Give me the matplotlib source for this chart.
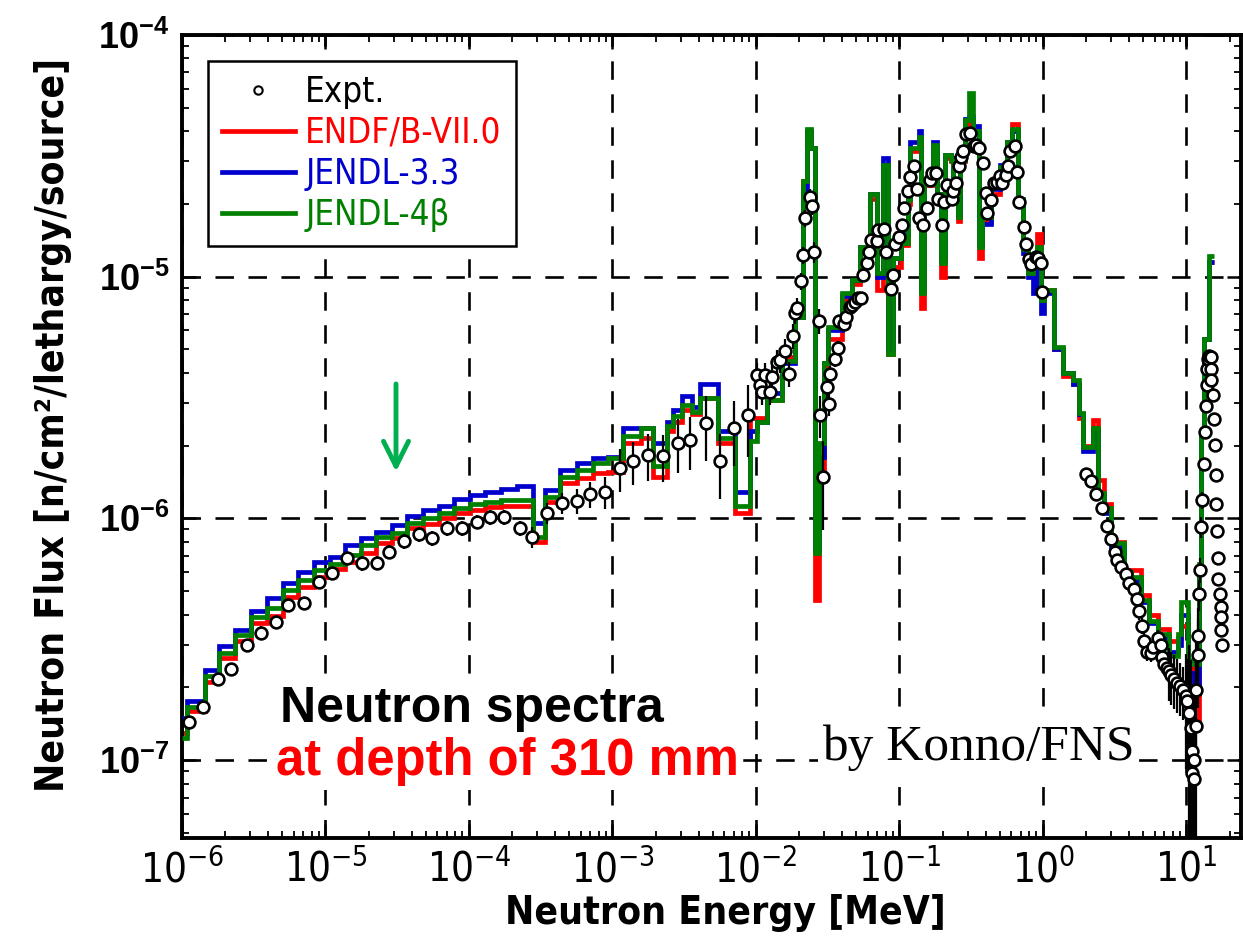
import numpy as np
import matplotlib
matplotlib.use('Agg')
import matplotlib.pyplot as plt
from matplotlib import font_manager as fm
from matplotlib.lines import Line2D
from matplotlib.ticker import LogLocator, FuncFormatter, NullFormatter

# ====================================================================================================
# Data
# ====================================================================================================

# group boundaries [MeV]
edges = [
    1.00e-6, 1.08e-6, 1.45e-6, 1.82e-6, 2.34e-6, 3.05e-6, 3.93e-6, 5.04e-6, 6.46e-6, 8.32e-6,
    1.07e-5, 1.37e-5, 1.76e-5, 2.26e-5, 2.90e-5, 3.72e-5, 4.79e-5, 6.17e-5, 7.89e-5, 1.01e-4,
    1.30e-4, 1.67e-4, 2.17e-4, 2.81e-4, 3.40e-4, 4.33e-4, 5.69e-4, 7.35e-4, 9.35e-4, 1.19e-3,
    1.57e-3, 1.93e-3, 2.41e-3, 2.65e-3, 3.07e-3, 3.60e-3, 4.09e-3, 5.47e-3, 7.18e-3, 9.12e-3,
    1.02e-2, 1.20e-2, 1.53e-2, 1.88e-2, 2.14e-2, 2.26e-2, 2.41e-2, 2.56e-2, 2.73e-2, 2.96e-2,
    3.16e-2, 3.96e-2, 4.65e-2, 5.35e-2, 6.28e-2, 7.03e-2, 7.73e-2, 8.38e-2, 9.08e-2, 1.02e-1,
    1.14e-1, 1.19e-1, 1.36e-1, 1.42e-1, 1.49e-1, 1.70e-1, 1.84e-1, 1.96e-1, 2.09e-1, 2.27e-1,
    2.38e-1, 2.54e-1, 2.66e-1, 2.88e-1, 3.03e-1, 3.23e-1, 3.56e-1, 3.79e-1, 4.31e-1, 5.06e-1,
    5.66e-1, 6.04e-1, 6.65e-1, 7.21e-1, 7.82e-1, 8.46e-1, 9.16e-1, 9.62e-1, 1.01, 1.19,
    1.37, 1.61, 1.77, 1.89, 2.22, 2.40, 2.65, 2.96, 3.65, 4.08,
    4.80, 5.45, 6.29, 7.52, 8.68, 9.11, 10.2, 11.2, 12.2, 12.7,
    13.2, 14.3, 15.5]

# JENDL-4beta (green)
flux_jendl4 = [
    1.24e-7, 1.66e-7, 2.22e-7, 2.77e-7, 3.30e-7, 3.90e-7, 4.26e-7, 5.06e-7, 5.56e-7, 6.12e-7,
    6.50e-7, 7.06e-7, 7.76e-7, 8.40e-7, 8.70e-7, 9.60e-7, 1.00e-6, 1.05e-6, 1.10e-6, 1.15e-6,
    1.17e-6, 1.19e-6, 1.19e-6, 8.40e-7, 1.23e-6, 1.49e-6, 1.58e-6, 1.69e-6, 1.77e-6, 2.20e-6,
    2.36e-6, 1.64e-6, 2.40e-6, 2.64e-6, 2.94e-6, 2.76e-6, 3.14e-6, 2.15e-6, 1.13e-6, 2.10e-6,
    2.50e-6, 3.10e-6, 4.50e-6, 6.80e-6, 2.50e-5, 4.10e-5, 3.40e-5, 7.20e-7, 2.05e-6, 4.40e-6,
    6.20e-6, 8.60e-6, 9.70e-6, 1.33e-5, 2.20e-5, 1.04e-5, 2.90e-5, 4.80e-6, 1.20e-5, 1.38e-5,
    2.10e-5, 3.40e-5, 3.80e-5, 8.60e-6, 2.50e-5, 3.50e-5, 2.20e-5, 1.14e-5, 3.20e-5, 3.05e-5,
    2.30e-5, 1.77e-5, 3.05e-5, 4.45e-5, 5.75e-5, 4.00e-5, 1.33e-5, 1.77e-5, 2.35e-5, 2.85e-5,
    3.60e-5, 4.10e-5, 2.10e-5, 1.30e-5, 1.04e-5, 1.10e-5, 1.33e-5, 8.00e-6, 8.80e-6, 5.13e-6,
    4.00e-6, 3.74e-6, 2.73e-6, 1.98e-6, 2.36e-6, 1.27e-6, 1.10e-6, 7.90e-7, 6.00e-7, 5.70e-7,
    4.60e-7, 3.77e-7, 3.33e-7, 2.69e-7, 3.33e-7, 4.50e-7, 2.60e-7, 2.50e-7, 6.50e-7, 2.20e-6,
    5.50e-6, 1.22e-5]

# JENDL-3.3 (blue)
flux_jendl33 = [
    1.50e-7, 1.76e-7, 2.35e-7, 2.97e-7, 3.45e-7, 4.15e-7, 4.70e-7, 5.40e-7, 5.98e-7, 6.60e-7,
    6.90e-7, 7.76e-7, 8.30e-7, 8.80e-7, 9.40e-7, 1.02e-6, 1.08e-6, 1.13e-6, 1.20e-6, 1.25e-6,
    1.28e-6, 1.32e-6, 1.36e-6, 9.60e-7, 1.31e-6, 1.58e-6, 1.69e-6, 1.78e-6, 1.80e-6, 2.36e-6,
    2.36e-6, 2.05e-6, 2.50e-6, 2.80e-6, 3.20e-6, 2.90e-6, 3.60e-6, 2.30e-6, 1.29e-6, 2.30e-6,
    2.50e-6, 3.30e-6, 4.40e-6, 6.80e-6, 2.30e-5, 4.00e-5, 3.40e-5, 7.50e-7, 1.80e-6, 4.40e-6,
    6.00e-6, 8.30e-6, 9.70e-6, 1.33e-5, 2.20e-5, 1.00e-5, 3.10e-5, 5.00e-6, 1.20e-5, 1.50e-5,
    2.10e-5, 3.60e-5, 4.00e-5, 9.00e-6, 2.50e-5, 3.60e-5, 2.20e-5, 1.20e-5, 3.20e-5, 3.10e-5,
    2.30e-5, 1.80e-5, 3.10e-5, 4.50e-5, 4.60e-5, 4.20e-5, 1.35e-5, 1.65e-5, 2.30e-5, 2.90e-5,
    3.60e-5, 4.00e-5, 2.00e-5, 1.25e-5, 1.00e-5, 8.60e-6, 1.20e-5, 7.10e-6, 8.60e-6, 5.00e-6,
    4.00e-6, 3.60e-6, 2.70e-6, 1.90e-6, 2.30e-6, 1.25e-6, 1.05e-6, 7.60e-7, 5.80e-7, 5.50e-7,
    4.50e-7, 3.70e-7, 3.20e-7, 2.80e-7, 3.00e-7, 4.00e-7, 2.30e-7, 1.90e-7, 6.00e-7, 2.20e-6,
    5.50e-6, 1.15e-5]

# ENDF/B-VII.0 (red)
flux_endf = [
    1.30e-7, 1.60e-7, 2.10e-7, 2.65e-7, 3.10e-7, 3.70e-7, 3.95e-7, 4.74e-7, 5.20e-7, 5.70e-7,
    6.20e-7, 6.60e-7, 7.20e-7, 7.90e-7, 8.30e-7, 9.10e-7, 9.50e-7, 1.00e-6, 1.05e-6, 1.08e-6,
    1.11e-6, 1.13e-6, 1.12e-6, 8.00e-7, 1.17e-6, 1.40e-6, 1.47e-6, 1.54e-6, 1.56e-6, 2.05e-6,
    2.15e-6, 1.49e-6, 2.30e-6, 2.50e-6, 2.80e-6, 2.70e-6, 3.14e-6, 2.05e-6, 1.05e-6, 2.60e-6,
    2.60e-6, 3.10e-6, 4.65e-6, 6.80e-6, 2.50e-5, 4.00e-5, 3.40e-5, 4.60e-7, 1.60e-6, 4.00e-6,
    5.50e-6, 8.00e-6, 9.30e-6, 1.25e-5, 2.10e-5, 8.80e-6, 2.90e-5, 4.80e-6, 1.10e-5, 1.35e-5,
    2.00e-5, 3.30e-5, 3.70e-5, 7.40e-6, 2.40e-5, 3.40e-5, 2.10e-5, 1.00e-5, 3.10e-5, 3.00e-5,
    2.20e-5, 1.70e-5, 3.00e-5, 4.30e-5, 4.40e-5, 4.00e-5, 1.20e-5, 1.70e-5, 2.20e-5, 2.80e-5,
    3.60e-5, 4.30e-5, 2.00e-5, 1.30e-5, 1.05e-5, 1.10e-5, 1.50e-5, 8.20e-6, 8.80e-6, 5.00e-6,
    3.90e-6, 3.60e-6, 2.60e-6, 2.00e-6, 2.55e-6, 1.44e-6, 1.15e-6, 8.00e-7, 6.10e-7, 6.10e-7,
    4.80e-7, 4.00e-7, 3.50e-7, 3.10e-7, 3.20e-7, 3.60e-7, 2.40e-7, 1.46e-7, 6.00e-7, 2.20e-6,
    5.50e-6, 1.15e-5]

# measured points: energy [MeV], flux, relative error
expt_e = [
    1.11e-6, 1.41e-6, 1.79e-6, 2.20e-6, 2.83e-6, 3.56e-6, 4.53e-6, 5.51e-6, 7.10e-6, 9.06e-6,
    1.11e-5, 1.41e-5, 1.79e-5, 2.28e-5, 2.79e-5, 3.55e-5, 4.52e-5, 5.54e-5, 7.01e-5, 8.92e-5,
    1.13e-4, 1.41e-4, 1.76e-4, 2.25e-4, 2.75e-4, 3.49e-4, 4.45e-4, 5.65e-4, 6.92e-4, 8.91e-4,
    1.12e-3, 1.39e-3, 1.76e-3, 2.25e-3, 2.86e-3, 3.49e-3, 4.49e-3, 5.58e-3, 7.00e-3, 8.75e-3,
    1.01e-2, 1.06e-2, 1.10e-2, 1.16e-2, 1.25e-2, 1.29e-2, 1.40e-2, 1.48e-2, 1.60e-2, 1.69e-2,
    1.81e-2, 1.88e-2, 1.94e-2, 2.06e-2, 2.13e-2, 2.21e-2, 2.37e-2, 2.46e-2, 2.52e-2, 2.74e-2,
    2.81e-2, 2.94e-2, 3.13e-2, 3.21e-2, 3.30e-2, 3.58e-2, 3.72e-2, 3.82e-2, 4.09e-2, 4.27e-2,
    4.50e-2, 4.68e-2, 4.88e-2, 5.12e-2, 5.41e-2, 5.58e-2, 5.96e-2, 6.18e-2, 6.35e-2, 6.92e-2,
    7.06e-2, 7.77e-2, 8.07e-2, 8.75e-2, 9.03e-2, 9.37e-2, 1.00e-1, 1.04e-1, 1.07e-1, 1.14e-1,
    0.119, 0.127, 0.132, 0.136, 0.146, 0.156, 0.163, 0.169, 0.181, 0.185,
    0.199, 0.206, 0.215, 0.231, 0.237, 0.246, 0.259, 0.269, 0.278, 0.293,
    0.309, 0.333, 0.344, 0.357, 0.384, 0.398, 0.409, 0.436, 0.455, 0.480,
    0.500, 0.520, 0.557, 0.569, 0.594, 0.634, 0.655, 0.679, 0.736, 0.757,
    0.798, 0.830, 0.888, 0.921, 0.972, 0.989, 1.98, 2.17, 2.33, 2.59,
    2.78, 2.96, 3.17, 3.30, 3.52, 3.77, 3.97, 4.31, 4.50, 4.67,
    4.92, 5.06, 5.28, 5.62, 5.88, 6.33, 6.61, 6.79, 6.97, 7.28,
    7.55, 7.85, 8.18, 8.55, 9.02, 9.53, 9.89, 10.05, 10.4, 10.7,
    11.0, 11.3, 10.9, 11.3, 11.6, 11.6, 12.0, 12.0, 12.2, 12.4,
    12.7, 12.9, 13.2, 13.4, 13.6, 13.8, 14.0, 14.1, 14.4, 14.9,
    14.8, 14.9, 15.4, 15.6, 15.7, 16.0, 16.0, 16.4, 16.6, 16.6,
    17.1, 17.3, 17.3, 17.5, 17.8]

expt_flux = [
    1.44e-7, 1.66e-7, 2.16e-7, 2.38e-7, 3.00e-7, 3.37e-7, 3.74e-7, 4.39e-7, 4.48e-7, 5.47e-7,
    5.93e-7, 6.84e-7, 6.52e-7, 6.56e-7, 7.28e-7, 8.07e-7, 8.59e-7, 8.28e-7, 9.10e-7, 9.10e-7,
    9.68e-7, 1.01e-6, 1.01e-6, 9.10e-7, 8.35e-7, 1.05e-6, 1.16e-6, 1.18e-6, 1.26e-6, 1.29e-6,
    1.61e-6, 1.72e-6, 1.83e-6, 1.81e-6, 2.06e-6, 2.11e-6, 2.47e-6, 1.72e-6, 2.36e-6, 2.68e-6,
    3.92e-6, 3.56e-6, 3.34e-6, 3.92e-6, 3.34e-6, 3.85e-6, 4.45e-6, 4.52e-6, 4.93e-6, 3.96e-6,
    5.69e-6, 7.06e-6, 7.40e-6, 9.62e-6, 1.23e-5, 1.75e-5, 2.13e-5, 1.96e-5, 1.26e-5, 6.58e-6,
    2.68e-6, 1.49e-6, 3.48e-6, 2.96e-6, 3.94e-6, 4.55e-6, 5.05e-6, 6.56e-6, 6.37e-6, 6.79e-6,
    7.52e-6, 7.64e-6, 7.88e-6, 8.14e-6, 8.19e-6, 1.02e-5, 1.14e-5, 1.27e-5, 1.42e-5, 1.40e-5,
    1.56e-5, 1.57e-5, 1.26e-5, 8.87e-6, 1.02e-5, 1.36e-5, 1.46e-5, 1.64e-5, 1.92e-5, 2.27e-5,
    2.59e-5, 2.87e-5, 2.30e-5, 1.75e-5, 1.64e-5, 1.92e-5, 2.51e-5, 2.68e-5, 2.68e-5, 2.09e-5,
    1.64e-5, 2.04e-5, 2.39e-5, 2.09e-5, 2.27e-5, 2.45e-5, 2.87e-5, 3.12e-5, 3.32e-5, 3.89e-5,
    3.94e-5, 3.47e-5, 3.51e-5, 3.40e-5, 2.95e-5, 2.21e-5, 1.84e-5, 2.08e-5, 2.45e-5, 2.47e-5,
    2.61e-5, 2.45e-5, 2.64e-5, 2.87e-5, 3.32e-5, 3.47e-5, 2.72e-5, 2.04e-5, 1.61e-5, 1.36e-5,
    1.18e-5, 1.13e-5, 1.21e-5, 1.20e-5, 1.14e-5, 8.67e-6, 1.52e-6, 1.43e-6, 1.26e-6, 1.10e-6,
    9.31e-7, 8.22e-7, 7.28e-7, 6.73e-7, 6.31e-7, 5.87e-7, 5.39e-7, 5.12e-7, 4.62e-7, 4.13e-7,
    3.60e-7, 3.10e-7, 2.80e-7, 2.78e-7, 2.94e-7, 3.21e-7, 2.99e-7, 2.68e-7, 2.50e-7, 2.41e-7,
    2.33e-7, 2.25e-7, 2.17e-7, 2.09e-7, 2.02e-7, 1.95e-7, 1.84e-7, 1.75e-7, 1.57e-7, 1.36e-7,
    1.09e-7, 1.00e-7, 8.83e-8, 8.37e-8, 1.38e-7, 1.95e-7, 2.73e-7, 3.27e-7, 4.85e-7, 6.12e-7,
    9.25e-7, 1.19e-6, 1.68e-6, 2.27e-6, 2.91e-6, 3.55e-6, 4.17e-6, 4.56e-6, 4.70e-6, 4.65e-6,
    4.17e-6, 3.74e-6, 3.24e-6, 2.57e-6, 2.01e-6, 1.51e-6, 1.15e-6, 8.83e-7, 6.87e-7, 5.60e-7,
    4.85e-7, 4.31e-7, 3.91e-7, 3.45e-7, 2.99e-7]

expt_err = [
    0.06, 0.06, 0.06, 0.06, 0.06, 0.06, 0.06, 0.06, 0.06, 0.06,
    0.06, 0.06, 0.07, 0.07, 0.07, 0.07, 0.07, 0.07, 0.07, 0.07,
    0.07, 0.07, 0.07, 0.07, 0.10, 0.10, 0.10, 0.12, 0.12, 0.15,
    0.20, 0.20, 0.22, 0.22, 0.25, 0.25, 0.30, 0.30, 0.30, 0.33,
    0.12, 0.12, 0.12, 0.12, 0.12, 0.12, 0.12, 0.12, 0.12, 0.12,
    0.12, 0.10, 0.10, 0.08, 0.08, 0.08, 0.08, 0.08, 0.10, 0.12,
    0.20, 0.40, 0.10, 0.10, 0.08, 0.07, 0.07, 0.06, 0.06, 0.06,
    0.06, 0.06, 0.06, 0.06, 0.06, 0.06, 0.06, 0.06, 0.06, 0.06,
    0.05, 0.05, 0.05, 0.05, 0.05, 0.05, 0.05, 0.05, 0.05, 0.05,
    0.04, 0.04, 0.04, 0.04, 0.04, 0.04, 0.04, 0.04, 0.04, 0.04,
    0.04, 0.04, 0.04, 0.04, 0.04, 0.04, 0.04, 0.04, 0.04, 0.04,
    0.04, 0.04, 0.04, 0.04, 0.04, 0.04, 0.04, 0.04, 0.04, 0.04,
    0.04, 0.04, 0.04, 0.04, 0.04, 0.04, 0.04, 0.04, 0.04, 0.04,
    0.04, 0.04, 0.04, 0.04, 0.04, 0.04, 0.05, 0.05, 0.05, 0.05,
    0.05, 0.05, 0.05, 0.05, 0.05, 0.05, 0.05, 0.08, 0.08, 0.08,
    0.08, 0.08, 0.08, 0.08, 0.08, 0.08, 0.08, 0.08, 0.08, 0.08,
    0.25, 0.25, 0.25, 0.25, 0.25, 0.25, 0.50, 0.50, 0.90, 0.90,
    0.90, 0.90, 0.90, 0.90, 0.90, 0.60, 0.40, 0.30, 0.15, 0.12,
    0.10, 0.08, 0.06, 0.06, 0.06, 0.06, 0.06, 0.06, 0.06, 0.06,
    0.06, 0.06, 0.06, 0.06, 0.06, 0.06, 0.06, 0.06, 0.06, 0.06,
    0.06, 0.06, 0.06, 0.06, 0.06]

labels = ['Expt.', 'ENDF/B-VII.0', 'JENDL-3.3', 'JENDL-4\u03b2']
colors = ['black', '#FF0000', '#0000CC', '#008000']

# green arrow (energy, flux from -> to)
arrow_e = 3.1e-5
arrow_flux = (3.6e-6, 1.56e-6)

# ====================================================================================================
# Fonts
# ====================================================================================================

def has_font(name, **kw):
    try:
        fm.findfont(fm.FontProperties(family=name, **kw), fallback_to_default=False)
        return True
    except Exception:
        return False

if has_font('Liberation Sans Narrow'):
    narrow = dict(family=['Liberation Sans Narrow', 'DejaVu Sans'])
else:
    narrow = dict(family=['DejaVu Sans'], stretch='condensed')
wide = dict(family=['Liberation Sans', 'DejaVu Sans'])
serif = dict(family=['Liberation Serif', 'DejaVu Serif'])

def fp(base, **kw):
    d = dict(base)
    d.update(kw)
    return fm.FontProperties(**d)

# ====================================================================================================
# Plot
# ====================================================================================================

W, H = 1243, 942
fig = plt.figure(figsize=(W / 100, H / 100), dpi=100)
ax = fig.add_axes([182 / W, 1 - 838 / H, (1241 - 182) / W, (838 - 35) / H])

ax.set_xscale('log')
ax.set_yscale('log', nonpositive='clip')

lw = 3.4
ax.stairs(flux_endf, edges, baseline=None, color=colors[1], lw=lw, zorder=2)
ax.stairs(flux_jendl33, edges, baseline=None, color=colors[2], lw=lw, zorder=3)
ax.stairs(flux_jendl4, edges, baseline=None, color=colors[3], lw=lw, zorder=4)

e = np.array(expt_e)
f = np.array(expt_flux)
ax.errorbar(e, f, yerr=f * np.array(expt_err), fmt='none', ecolor='black',
            elinewidth=1.6, capsize=0, zorder=5)
ax.plot(e, f, 'o', ms=8.5, mfc='white', mec='black', mew=1.9, zorder=6)

ax.set_xlim(1e-6, 24)
ax.set_ylim(4.76e-8, 1e-4)

# ticks
ax.xaxis.set_major_locator(LogLocator(base=10, numticks=20))
ax.xaxis.set_minor_locator(LogLocator(base=10, subs=np.arange(2, 10), numticks=20))
ax.yaxis.set_major_locator(LogLocator(base=10, numticks=20))
ax.yaxis.set_minor_locator(LogLocator(base=10, subs=np.arange(2, 10), numticks=20))
pow_fmt = FuncFormatter(lambda v, p: r'$\mathregular{10^{%d}}$' % int(round(np.log10(v))))
ax.xaxis.set_major_formatter(pow_fmt)
ax.yaxis.set_major_formatter(pow_fmt)
ax.xaxis.set_minor_formatter(NullFormatter())
ax.yaxis.set_minor_formatter(NullFormatter())
ax.tick_params(which='both', direction='in', top=True, right=True)
ax.tick_params(which='major', length=10, width=1.8)
ax.tick_params(which='minor', length=5, width=1.3)
ax.tick_params(axis='x', pad=9, labelsize=29)
ax.tick_params(axis='y', pad=9, labelsize=26)
for t in ax.get_xticklabels():
    t.set_fontproperties(fp(narrow, size=29))
for t in ax.get_yticklabels():
    t.set_fontproperties(fp(wide, size=26, weight='bold'))

for s in ax.spines.values():
    s.set_linewidth(2.8)

ax.grid(True, which='major', color='black', linestyle=(0, (7, 5.5)), linewidth=1.9)
ax.set_axisbelow('line')

# axis labels
ax.set_xlabel('Neutron Energy [MeV]', fontproperties=fp(narrow, size=28, weight='bold'))
ax.xaxis.set_label_coords(0.513, -0.07)
ax.set_ylabel('Neutron Flux [n/cm\u00b2/lethargy/source]',
              fontproperties=fp(narrow, size=28, weight='bold'))
ax.yaxis.set_label_coords(-0.104, 0.515)

# legend
handles = [Line2D([], [], ls='none', marker='o', ms=6, mfc='white', mec='black', mew=1.5)]
for c in colors[1:]:
    handles.append(Line2D([], [], color=c, lw=lw))
leg = ax.legend(handles, labels, loc='upper left', bbox_to_anchor=(0.0246, 0.9676),
                prop=fp(narrow, size=25), frameon=True, fancybox=False, edgecolor='black',
                framealpha=1, borderpad=0.4, handlelength=2.1, handletextpad=0.3,
                labelspacing=0.2, borderaxespad=0)
leg.get_frame().set_linewidth(1.8)
leg.set_zorder(10)
for t, c in zip(leg.get_texts(), colors):
    t.set_color(c)

# annotations
box = dict(facecolor='white', edgecolor='none', pad=3)
ax.text(0.0925, 0.1445, 'Neutron spectra', transform=ax.transAxes, va='baseline', ha='left',
        fontproperties=fp(wide, size=36, weight='bold'), color='black', bbox=box, zorder=1.8)
ax.text(0.0888, 0.0785, 'at depth of 310 mm', transform=ax.transAxes, va='baseline', ha='left',
        fontproperties=fp(wide, size=36.5, weight='bold'), color='#FF0000', bbox=box, zorder=1.8)
ax.text(0.604, 0.097, 'by Konno/FNS', transform=ax.transAxes, va='baseline', ha='left',
        fontproperties=fp(serif, size=37), color='black', bbox=box, zorder=1.8)

ax.annotate('', xy=(arrow_e, arrow_flux[1]), xytext=(arrow_e, arrow_flux[0]),
            arrowprops=dict(arrowstyle='->,head_length=0.9,head_width=0.45', color='#00B050',
                            lw=3.5, mutation_scale=20, shrinkA=0, shrinkB=0), zorder=7)

fig.savefig('out.png', dpi=100)
